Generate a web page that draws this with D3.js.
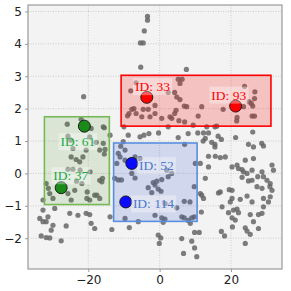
<!DOCTYPE html>
<html><head><meta charset="utf-8">
<script src="https://cdn.jsdelivr.net/npm/d3@7"></script>
<style>body{margin:0;background:#fff}</style>
</head><body><svg id="c" width="291" height="291"></svg>
<script>
const pointsX = [
-3.4,-3.4,-4.3,-5.4,-4.6,-5.3,7.5,-21.3,
-8.1,-6.6,-7.8,-8.6,-7.2,-4.6,-9,-5,-6.6,-2.7,-1.3,0.6,
2.4,4.2,-1.3,-3.2,5.2,6.3,5.7,4.8,5.7,6.9,7.6,11.8,4.6,5.4,7,4.2,2.9,3.4,10.8,9.4,17.8,21.7,21.6,23.8,26.7,26.6,25.1,25.7,23.5,26.1,25.9,26.6,
-15.5,-13.9,-15.8,-8.8,-10,-5.5,-4.4,-3,-0.3,2.4,5.2,8,10.7,12.3,13.7,13.2,15.5,16,16.4,21.3,26.1,12.8,12.2,14.6,15.5,17.3,24.9,28.6,29.1,-10.2,-15.8,7,26.3,
13.7,15.6,17,18.4,11.4,13.7,20.3,21.7,22.1,23.1,23.5,26.3,25.9,28.7,31.5,31.9,24.5,12.8,23.1,24.9,25.9,27.5,29.1,30.1,31,27.3,28.7,31.5,29.1,31,24.5,17,20.3,20.3,19.8,22.6,11.4,11.8,12.3,16.5,25.9,30.5,24,15.5,19.5,30.9,
11.7,17.5,19.3,20.7,21.7,22.1,20.3,21.2,25.4,27.7,28.7,29.1,26.3,20.4,24,24.5,25.4,27.7,17.3,18.2,24,9.8,11.1,6.2,9,9.8,6.7,10.4,8.6,
-10.9,-11.6,-9.7,-11.1,-9.7,-12,-6.9,-5.5,-7.8,-12.6,-11.6,-10.7,-6.9,2.4,3.4,2,-3.2,-1.8,-0.8,0.6,-0.4,-2.2,-1.3,0.4,1.5,4.8,6.9,8.5,9.7,10,6.2,6.9,9,9.7,0.6,1.5,-1.3,8,
-15.3,-15.5,-16,-16.2,
-13.9,-9.7,-6,-8.5,-13.4,-0.4,0.3,-0.1,1,
-25.9,-22,-25.7,-24.9,-17.8,-19.6,-19.2,-24.3,-24.8,-23.4,-22.4,-21.5,-25.7,-24.3,-20.6,-16.8,-22.3,-19.5,-23.3,-21.8,-20.3,-17.6,-20.4,-31.8,-30.8,-29.9,-32.7,-25.7,-24.8,-19.6,-18.2,-16.8,-16.8,-23.8,-31.2,
-32.7,-29.4,-33.6,-32.7,-31.8,-31.3,-29.9,-30.4,-33.2,-31.8,-30.8,-27.6,-26.2,-25.2,-22.9,-20.6,-19.6,-19.2,-18.2
];
const pointsY = [
4.85,4.73,4.4,4.03,4.03,3.28,3.21,2.37,
2.55,2.8,1.98,1.85,2.0,1.98,1.78,1.75,1.85,1.75,1.85,1.7,
2.5,2.5,2.1,1.98,2.91,2.91,2.78,2.36,2.28,2.08,2.06,2.06,1.95,1.63,1.59,1.85,1.75,1.7,1.77,1.49,1.98,1.73,1.62,2.69,2.52,2.31,2.21,2.16,2.06,2.08,1.77,1.77,
1.41,1.18,1.44,1.18,1.44,1.13,1.18,1.23,1.25,1.44,1.11,1.23,1.25,1.25,1.25,1.44,1.44,1.46,1.15,1.11,1.28,1.08,1.0,0.96,0.9,1.05,0.9,0.93,0.85,0.98,0.93,0.9,0.82,
0.53,0.53,0.49,0.51,0.31,0.2,0.2,0.26,0.15,0.12,0.05,0.46,0.1,0.05,0.26,0.1,0,-0.15,-0.12,-0.23,-0.21,-0.1,-0.1,-0.21,-0.31,-0.41,-0.46,-0.52,-0.77,-0.72,-0.7,-0.57,-0.52,-0.77,-0.88,-0.8,-0.62,-0.67,-0.77,-0.6,-0.88,-0.88,0.41,0.82,-0.5,-0.41,
-1.19,-1.03,-1.21,-1.13,-1.1,-1.21,-1.37,-1.44,-1.27,-1.27,-1.23,-1.03,-1.49,-1.65,-1.68,-1.78,-1.88,-1.7,-1.79,-1.93,-2.16,-1.82,-1.82,-2.01,-2.09,-2.3,-2.47,-2.57,-1.54,
0.84,0.62,0.72,0.51,0.41,0.31,0.51,0.46,0,-0.15,-0.2,-0.2,-0.14,-0.1,0,0.1,-0.44,-0.28,-0.24,-0.19,-0.48,-0.59,-0.36,-0.55,-0.93,-1.06,-0.86,-0.88,-0.41,0.31,-1.34,-1.37,-1.37,-1.34,-1.37,-1.41,-1.29,-1.45,
0.74,0.6,-0.15,-0.26,
-1.34,-1.39,-1.49,-1.67,-1.73,-1.9,-1.99,-2.16,-1.51,
1.52,1.67,1.15,1.03,0.96,1.13,1.39,0.77,0.51,0.43,0.36,0.51,0.13,0.13,0.72,0.72,0.1,0.05,-0.24,-0.31,-0.57,-0.67,-0.77,-0.31,-0.62,-0.77,-0.82,-0.62,-0.82,-0.82,-0.67,-0.77,-0.21,-0.52,-0.46,
-1.13,-1.08,-1.39,-1.49,-1.49,-1.34,-1.6,-1.75,-1.93,-1.98,-1.99,-2.08,-1.62,-1.23,-1.29,-1.23,-1.27,-1.54,-1.7
];
const boxX0 = [-10.8, -32.3, -12.9];
const boxX1 = [31.2, -14.1, 10.5];
const boxY0 = [1.46, -0.96, -1.48];
const boxY1 = [3.03, 1.75, 0.94];
const hiIds = [33, 93, 61, 37, 52, 114];
const hiX = [-3.6, 21.3, -21.1, -27.6, -7.8, -9.5];
const hiY = [2.35, 2.08, 1.46, -0.44, 0.31, -0.88];
const hiGroup = [0, 0, 1, 1, 2, 2];
const labelX = [-6.9, 14.5, -27.8, -29.8, -5.8, -7.5];
const labelY = [2.54, 2.28, 0.84, -0.21, 0.10, -1.08];
const xTicks = [-20, 0, 20];
const yTicks = [-2, -1, 0, 1, 2, 3, 4, 5];

const boxFill = ["rgba(255,0,0,0.2)", "rgba(60,140,20,0.13)", "rgba(40,80,200,0.17)"];
const boxStroke = ["#ff0000", "#78b957", "#5a8ee0"];
const dotFill = ["#ff0000", "#1a8a1a", "#0a0aff"];
const textFill = ["#ff0000", "#22aa44", "#4a78d0"];

const W = 291, H = 291;
const m = {l: 28, t: 5, r: 9, b: 22};
const svg = d3.select("#c");
const x = d3.scaleLinear().domain([-36.9, 34.3]).range([m.l, W - m.r]);
const y = d3.scaleLinear().domain([-2.95, 5.2]).range([H - m.b, m.t]);

svg.append("rect").attr("x", m.l).attr("y", m.t)
  .attr("width", W - m.l - m.r).attr("height", H - m.t - m.b).attr("fill", "#f3f3f3");

// grid
const g = svg.append("g");
g.selectAll(".gx").data(xTicks).join("line")
  .attr("x1", d => x(d)).attr("x2", d => x(d)).attr("y1", m.t).attr("y2", H - m.b)
  .attr("stroke", "#c4c4c4").attr("stroke-width", 0.8).attr("stroke-dasharray", "1,1.5");
g.selectAll(".gy").data(yTicks).join("line")
  .attr("y1", d => y(d)).attr("y2", d => y(d)).attr("x1", m.l).attr("x2", W - m.r)
  .attr("stroke", "#c4c4c4").attr("stroke-width", 0.8).attr("stroke-dasharray", "1,1.5");

// points
svg.append("g").selectAll("circle").data(pointsX.map((v, i) => [v, pointsY[i]])).join("circle")
  .attr("cx", d => x(d[0])).attr("cy", d => y(d[1])).attr("r", 2.6)
  .attr("fill", "#666").attr("fill-opacity", 0.85);

// boxes
svg.append("g").selectAll("rect").data(boxX0.map((v, i) => i)).join("rect")
  .attr("x", i => x(boxX0[i])).attr("y", i => y(boxY1[i]))
  .attr("width", i => x(boxX1[i]) - x(boxX0[i])).attr("height", i => y(boxY0[i]) - y(boxY1[i]))
  .attr("fill", i => boxFill[i]).attr("stroke", i => boxStroke[i]).attr("stroke-width", 1.6);

// highlighted
svg.append("g").selectAll("circle").data(hiIds.map((v, i) => i)).join("circle")
  .attr("cx", i => x(hiX[i])).attr("cy", i => y(hiY[i])).attr("r", 6)
  .attr("fill", i => dotFill[hiGroup[i]]).attr("stroke", "#111").attr("stroke-width", 0.9);

// labels
const lg = svg.append("g");
hiIds.forEach((id, i) => {
  const gg = lg.append("g");
  const bg = gg.append("rect");
  const t = gg.append("text").attr("x", x(labelX[i])).attr("y", y(labelY[i]))
    .attr("font-family", "Liberation Serif, Times New Roman, serif").attr("font-size", 13.5)
    .attr("fill", textFill[hiGroup[i]]).text("ID: " + id);
  const b = t.node().getBBox();
  bg.attr("x", b.x - 2).attr("y", b.y - 1).attr("width", b.width + 4).attr("height", b.height + 2)
    .attr("fill", "#fff").attr("fill-opacity", 0.35);
});

// frame
svg.append("rect").attr("x", m.l).attr("y", m.t)
  .attr("width", W - m.l - m.r).attr("height", H - m.t - m.b)
  .attr("fill", "none").attr("stroke", "#9a9a9a").attr("stroke-width", 1.2);

// axes
const fmt = d => d < 0 ? "\u2212" + Math.abs(d) : String(d);
const xa = svg.append("g").attr("transform", `translate(0,${H - m.b})`)
  .call(d3.axisBottom(x).tickValues(xTicks).tickFormat(fmt).tickSize(3).tickPadding(3));
const ya = svg.append("g").attr("transform", `translate(${m.l},0)`)
  .call(d3.axisLeft(y).tickValues(yTicks).tickFormat(fmt).tickSize(3).tickPadding(3));
[xa, ya].forEach(a => {
  a.select(".domain").remove();
  a.selectAll("line").attr("stroke", "#9a9a9a");
  a.selectAll("text").attr("font-family", "DejaVu Sans, sans-serif").attr("font-size", 12).attr("fill", "#222");
});
</script></body></html>
